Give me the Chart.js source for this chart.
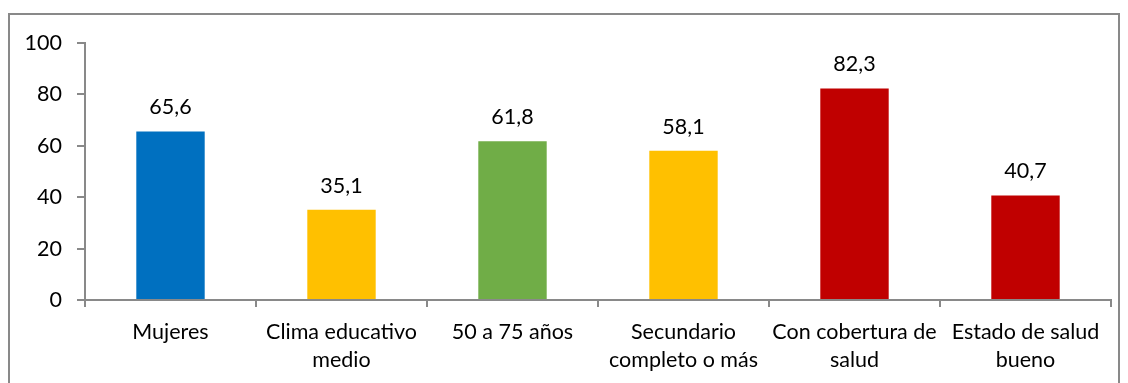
<!DOCTYPE html>
<html>
<head>
<meta charset="utf-8">
<script src="https://cdn.jsdelivr.net/npm/chart.js@4"></script>
<style>
  html, body { margin: 0; padding: 0; background: #fff; }
  #wrap { width: 1128px; height: 383px; position: relative; }
</style>
</head>
<body>
<div id="wrap"><canvas id="perfilChart"></canvas></div>
<script>
const categorias = [
  'Mujeres',
  ['Clima educativo', 'medio'],
  '50 a 75 años',
  ['Secundario', 'completo o más'],
  ['Con cobertura de', 'salud'],
  ['Estado de salud', 'bueno']
];
const valores = [65.6, 35.1, 61.8, 58.1, 82.3, 40.7];
const colores = ['#0070C0', '#FFC000', '#70AD47', '#FFC000', '#C00000', '#C00000'];
const ticksY = [0, 20, 40, 60, 80, 100];

const fuente = { family: 'Lato, "Open Sans", sans-serif', size: 21.5 };
const gris = '#898989';

// marco exterior del gráfico
const marco = {
  id: 'marco',
  beforeDraw(chart) {
    const ctx = chart.ctx;
    ctx.save();
    ctx.strokeStyle = gris;
    ctx.lineWidth = 2;
    ctx.strokeRect(9, 14, 1110, 400);
    ctx.restore();
  }
};

// etiquetas de valor sobre cada barra, con coma decimal
const etiquetas = {
  id: 'etiquetas',
  afterDatasetsDraw(chart) {
    const ctx = chart.ctx;
    const meta = chart.getDatasetMeta(0);
    ctx.save();
    ctx.font = fuente.size + 'px ' + fuente.family;
    ctx.fillStyle = '#000';
    ctx.textAlign = 'center';
    ctx.textBaseline = 'alphabetic';
    meta.data.forEach((bar, i) => {
      const txt = valores[i].toFixed(1).replace('.', ',');
      ctx.fillText(txt, bar.x, bar.y - 17);
    });
    ctx.restore();
  }
};

new Chart(document.getElementById('perfilChart'), {
  type: 'bar',
  data: {
    labels: categorias,
    datasets: [{
      data: valores,
      backgroundColor: colores,
      barPercentage: 0.4,
      categoryPercentage: 1
    }]
  },
  options: {
    responsive: true,
    maintainAspectRatio: false,
    animation: false,
    layout: { padding: { top: 43, right: 17, left: 0, bottom: 0 } },
    plugins: { legend: { display: false }, tooltip: { enabled: false } },
    scales: {
      y: {
        min: 0,
        max: 100,
        afterFit: s => { s.width = 85; },
        afterBuildTicks: s => { s.ticks = ticksY.map(v => ({ value: v })); },
        grid: { drawOnChartArea: false, drawTicks: true, tickLength: 8, color: gris, lineWidth: 2 },
        border: { color: gris, width: 2 },
        ticks: { font: fuente, color: '#000', padding: 15 }
      },
      x: {
        afterFit: s => { s.height = 83; },
        grid: { offset: true, drawOnChartArea: false, drawTicks: true, tickLength: 7, color: gris, lineWidth: 2 },
        border: { color: gris, width: 2 },
        ticks: { font: Object.assign({ lineHeight: 1.3 }, fuente), color: '#000', padding: 11, maxRotation: 0, autoSkip: false }
      }
    }
  },
  plugins: [marco, etiquetas]
});
</script>
</body>
</html>
